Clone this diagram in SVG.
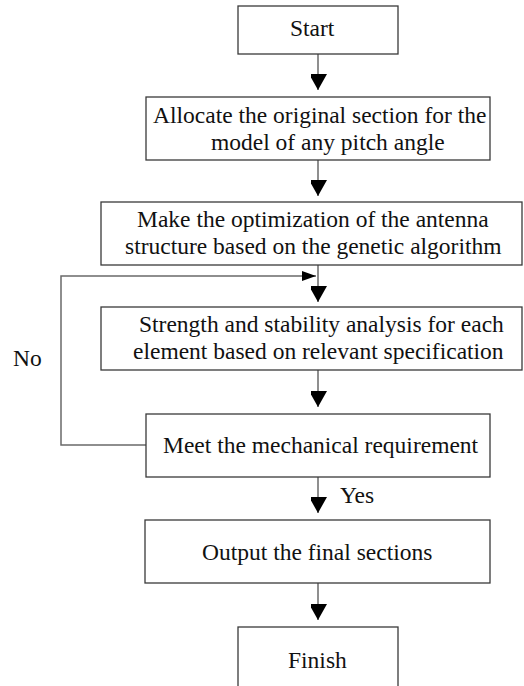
<svg xmlns="http://www.w3.org/2000/svg" width="524" height="686" viewBox="0 0 524 686">
<style>
.box{fill:#fff;stroke:#3a3a3a;stroke-width:1.3}
.t{font-family:"Liberation Serif","Times New Roman",serif;font-size:23.5px;fill:#111}
.c{fill:none;stroke:#6a6a6a;stroke-width:1.5}
</style>
<defs>
<marker id="ah" markerWidth="18" markerHeight="16" refX="16" refY="9" orient="auto" markerUnits="userSpaceOnUse">
<path d="M0,0 L16,9 L0,18 Z" fill="#000"/>
</marker>
<marker id="ahs" markerWidth="14" markerHeight="10" refX="14" refY="5" orient="auto" markerUnits="userSpaceOnUse">
<path d="M0,0 L14,5 L0,10 Z" fill="#000"/>
</marker>
</defs>
<rect width="524" height="686" fill="#fff"/>
<g id="connectors">
<line class="c" x1="318" y1="54" x2="318" y2="90" marker-end="url(#ah)"/>
<line class="c" x1="318" y1="160" x2="318" y2="196" marker-end="url(#ah)"/>
<line class="c" x1="318" y1="265" x2="318" y2="302" marker-end="url(#ah)"/>
<line class="c" x1="318" y1="370" x2="318" y2="407" marker-end="url(#ah)"/>
<line class="c" x1="318" y1="477" x2="318" y2="513" marker-end="url(#ah)"/>
<line class="c" x1="318" y1="583" x2="318" y2="620" marker-end="url(#ah)"/>
<polyline class="c" points="146,445 61,445 61,276 316,276" marker-end="url(#ahs)"/>
<text class="t" x="340" y="503">Yes</text>
<text class="t" x="13" y="366">No</text>
</g>
<g id="start">
<rect class="box" x="238" y="6" width="160" height="48"/>
<text class="t" x="290" y="36">Start</text>
</g>
<g id="allocate">
<rect class="box" x="146" y="97" width="344" height="63"/>
<text class="t" x="153" y="123">Allocate the original section for the</text>
<text class="t" x="211" y="150">model of any pitch angle</text>
</g>
<g id="optimize">
<rect class="box" x="101" y="202" width="421" height="63"/>
<text class="t" x="137" y="227">Make the optimization of the antenna</text>
<text class="t" x="125" y="254">structure based on the genetic algorithm</text>
</g>
<g id="analysis">
<rect class="box" x="101" y="307" width="421" height="63"/>
<text class="t" x="139" y="332">Strength and stability analysis for each</text>
<text class="t" x="133" y="359">element based on relevant specification</text>
</g>
<g id="meet">
<rect class="box" x="146" y="414" width="344" height="63"/>
<text class="t" x="163" y="453">Meet the mechanical requirement</text>
</g>
<g id="output">
<rect class="box" x="145" y="520" width="345" height="63"/>
<text class="t" x="202" y="560">Output the final sections</text>
</g>
<g id="finish">
<rect class="box" x="238" y="627" width="160" height="70"/>
<text class="t" x="288" y="668">Finish</text>
</g>
</svg>
